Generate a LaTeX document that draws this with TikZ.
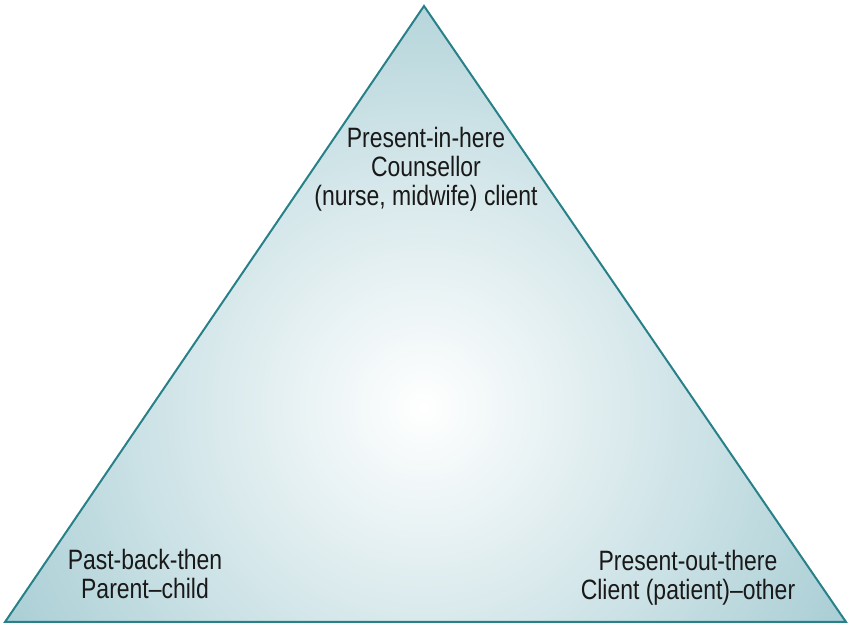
\documentclass[tikz,border=0pt]{standalone}
\usepackage{fontspec}
\setmainfont{Liberation Sans}[FakeStretch=0.82]
\usetikzlibrary{calc}
\definecolor{rimteal}{RGB}{40,128,136}
\definecolor{glowteal}{RGB}{88,160,173}
\tikzset{
%Define style for the triangle edge
rim line/.style={draw=rimteal, line width=2pt, line join=miter},
%Define style for the three corner texts
corner label/.style={align=center, anchor=base, inner sep=0pt, text=black!90,
  font=\fontsize{28}{29}\selectfont},
}

\begin{document}
\begin{tikzpicture}[x=1pt,y=1pt]
    % Page frame
    \useasboundingbox (0,0) rectangle (852,631);

    % Let us define the corners
    \path
    coordinate (apex) at (424,625)
    coordinate (left) at (5,9)
    coordinate (right) at (846,9);

    % Glow, clipped to the triangle
    \begin{scope}
      \clip (apex) -- (left) -- (right) -- cycle;
      \shade[inner color=white, outer color=glowteal] (423,224) circle (920);
    \end{scope}
    \draw[rim line] (apex) -- (left) -- (right) -- cycle;

    % Texts (base = last line)
    \node[corner label] (here) at (426,425)
      {Present-in-here\\Counsellor\\(nurse, midwife) client};
    \node[corner label] (then) at (145,32) {Past-back-then\\Parent--child};
    \node[corner label] (there) at (688,31) {Present-out-there\\Client (patient)--other};
\end{tikzpicture}
\end{document}
